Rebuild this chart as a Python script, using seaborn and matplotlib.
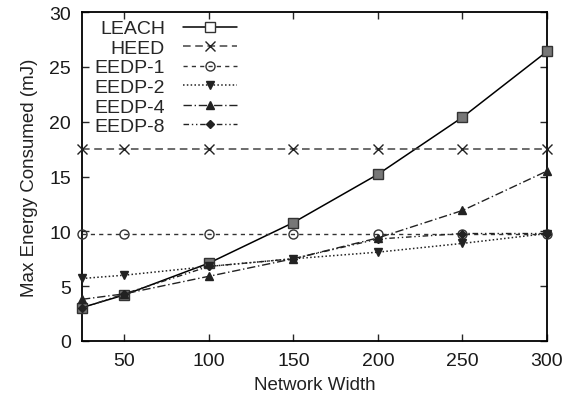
import matplotlib
matplotlib.use("Agg")
import matplotlib.pyplot as plt
import seaborn as sns
import pandas as pd

widths = [25, 50, 100, 150, 200, 250, 300]
leach = [3.05, 4.2, 7.1, 10.8, 15.2, 20.4, 26.4]
heed = [17.5, 17.5, 17.5, 17.5, 17.5, 17.5, 17.5]
eedp1 = [9.8, 9.8, 9.8, 9.8, 9.8, 9.8, 9.8]
eedp2 = [5.7, 6.0, 6.8, 7.5, 8.1, 8.9, 9.8]
eedp4 = [3.8, 4.3, 5.9, 7.5, 9.4, 11.9, 15.5]
eedp8 = [3.0, 4.3, 6.8, 7.5, 9.3, 9.8, 9.8]

series = ["LEACH", "HEED", "EEDP-1", "EEDP-2", "EEDP-4", "EEDP-8"]
values = [leach, heed, eedp1, eedp2, eedp4, eedp8]

rows = []
for name, vals in zip(series, values):
    for w, v in zip(widths, vals):
        rows.append({"Network Width": w, "Energy": v, "Series": name})
df = pd.DataFrame(rows)

sns.set_style("ticks")
plt.rcParams['font.family'] = ['Liberation Sans', 'DejaVu Sans']

fig = plt.figure(figsize=(5.73, 4.02), dpi=100)
ax = fig.add_axes([82/573, 1-342/402, (547-82)/573, (342-13)/402])

styles = {
    "LEACH": dict(linestyle="-", marker="s", mfc="#777777", ms=6.5, color="black", lw=1.1, mec="#333333"),
    "HEED": dict(linestyle=(0, (5, 3)), marker="x", ms=6.5, color="#444444", lw=1.1, mec="#222222"),
    "EEDP-1": dict(linestyle=(0, (3, 3)), marker="o", mfc="none", ms=6.5, color="#333333", lw=1.0, mec="#333333"),
    "EEDP-2": dict(linestyle=(0, (1, 1.5)), marker="v", ms=5.5, color="#222222", lw=1.1, mec="#222222"),
    "EEDP-4": dict(linestyle=(0, (6, 2, 1, 2)), marker="^", ms=5.5, color="#222222", lw=1.0, mec="#222222"),
    "EEDP-8": dict(linestyle=(0, (4, 2, 1, 2, 1, 2)), marker="D", ms=4, color="#222222", lw=1.0, mec="#222222"),
}

for name in series:
    sub = df[df["Series"] == name]
    st = styles[name]
    sns.lineplot(data=sub, x="Network Width", y="Energy", ax=ax, label=name,
                 color=st["color"], linestyle=st["linestyle"], marker=st["marker"],
                 markersize=st["ms"], markerfacecolor=st.get("mfc", st["color"]),
                 markeredgecolor=st["mec"], linewidth=st["lw"], markeredgewidth=1.0,
                 clip_on=False, zorder=3)

ax.set_xlim(25, 300)
ax.set_ylim(0, 30)
ax.set_xticks([50, 100, 150, 200, 250, 300])
ax.set_yticks([0, 5, 10, 15, 20, 25, 30])
ax.tick_params(direction="in", top=True, right=True, labelsize=14, length=5,
               width=1, pad=8, labelcolor="#1a1a1a")
for s in ax.spines.values():
    s.set_linewidth(1.3)
    s.set_color("black")
ax.set_xlabel("Network Width", fontsize=13.5, color="#222222", labelpad=5)
ax.set_ylabel("Max Energy Consumed (mJ)", fontsize=13.5, color="#222222", labelpad=8)

leg = ax.legend(loc="upper left", markerfirst=False, frameon=False, fontsize=14,
                handlelength=2.8, labelspacing=0.1, handletextpad=0.9,
                borderaxespad=0.0, bbox_to_anchor=(0.01, 1.0))
leg.legend_handles[0].set_markerfacecolor("white")

fig.savefig("out.png", dpi=100)
